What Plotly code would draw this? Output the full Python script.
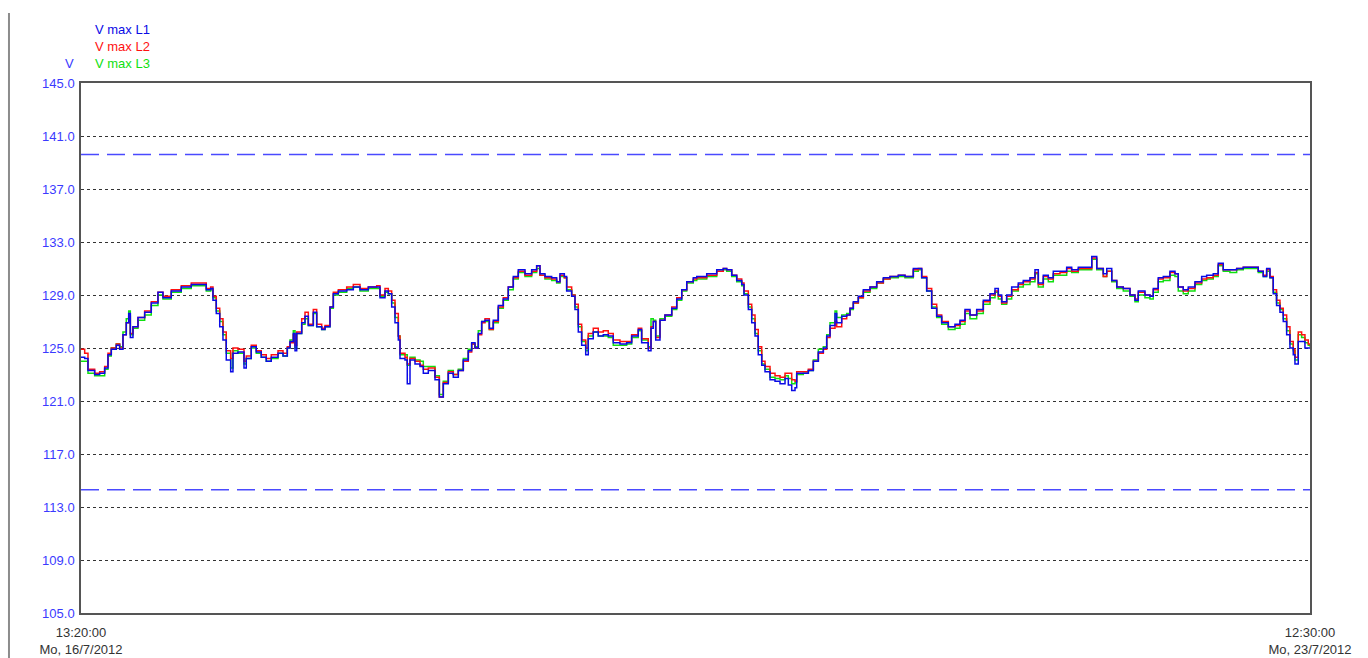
import pandas as pd
import plotly.graph_objects as go

# Measurement window
START = "2012-07-16 13:20:00"
END = "2012-07-23 12:30:00"

# Sample times, hours after START
HOURS = [
    0.0, 0.5, 0.95, 1.86, 2.54, 3.22, 3.67, 4.12, 4.80, 5.26,
    5.71, 6.16, 6.49, 6.71, 7.07, 7.75, 8.66, 9.56, 10.47, 11.15,
    12.28, 13.64, 15.0, 16.15, 17.04, 17.64, 17.95, 18.40, 18.87, 19.31,
    19.76, 20.36, 20.67, 21.35, 22.17, 22.48, 23.16, 23.84, 24.52, 25.20,
    25.88, 26.80, 27.48, 28.06, 28.43, 28.88, 29.11, 29.34, 30.02, 30.47,
    30.92, 31.60, 32.06, 32.74, 33.19, 33.87, 34.32, 35.0, 36.14, 37.04,
    37.95, 39.08, 40.22, 40.67, 41.35, 41.80, 42.26, 42.71, 43.16, 43.39,
    44.07, 44.38, 44.75, 45.43, 46.11, 46.56, 47.24, 48.15, 48.74, 49.28,
    49.96, 50.64, 51.32, 52.0, 52.68, 53.14, 53.59, 54.04, 54.50, 54.95,
    55.54, 56.08, 56.76, 57.44, 58.12, 58.80, 59.48, 60.39, 61.30, 61.98,
    62.43, 63.11, 64.02, 64.70, 65.15, 65.74, 66.06, 66.74, 67.19, 67.64,
    68.10, 68.65, 69.0, 69.68, 70.36, 71.04, 71.72, 72.40, 73.31, 74.22,
    74.90, 75.80, 76.26, 77.16, 77.53, 77.84, 78.17, 78.75, 79.43, 80.35,
    81.03, 81.71, 82.39, 83.28, 83.75, 85.11, 86.47, 87.36, 87.83, 88.51,
    89.19, 89.87, 90.18, 90.77, 91.23, 91.68, 92.12, 92.59, 93.04, 93.72,
    94.40, 95.08, 95.76, 96.21, 96.67, 97.12, 97.35, 98.25, 98.93, 99.61,
    100.29, 100.97, 101.43, 101.88, 102.56, 102.79, 103.47, 104.15, 104.60, 105.05,
    105.73, 106.41, 107.32, 108.23, 109.13, 110.04, 111.17, 112.08, 113.21, 113.89,
    114.35, 115.03, 115.71, 116.39, 117.07, 117.97, 118.88, 119.56, 120.24, 120.92,
    121.83, 122.73, 123.64, 124.32, 124.77, 125.23, 125.91, 126.59, 127.49, 128.17,
    129.08, 129.76, 130.21, 130.89, 131.57, 132.25, 133.16, 134.07, 134.75, 135.65,
    136.56, 137.48, 138.16, 139.05, 139.52, 140.20, 140.88, 141.77, 142.68, 143.36,
    143.81, 144.72, 145.40, 145.85, 146.53, 147.21, 148.12, 148.80, 149.25, 149.93,
    150.61, 151.52, 152.43, 153.11, 154.01, 154.69, 155.37, 156.28, 157.19, 158.09,
    159.45, 160.13, 160.81, 161.27, 161.72, 162.17, 162.62, 163.08, 163.53, 163.99,
    164.44, 164.89, 165.12, 165.57, 166.03, 166.48, 166.93, 167.17,
]

V_MAX_L1 = [
    124.3, 124.2, 123.3, 123.0, 123.1, 123.5, 124.5, 124.9, 125.2, 124.9,
    126.0, 126.9, 127.6, 125.8, 126.6, 127.3, 127.7, 128.4, 129.2, 128.8,
    129.3, 129.6, 129.8, 129.8, 129.4, 129.5, 128.6, 127.6, 126.6, 125.6,
    124.1, 123.2, 124.6, 124.7, 123.5, 124.2, 125.1, 124.7, 124.3, 124.0,
    124.3, 124.6, 124.4, 125.0, 125.5, 126.1, 124.8, 126.1, 126.9, 127.4,
    126.7, 127.7, 126.6, 126.4, 126.6, 128.1, 129.1, 129.3, 129.4, 129.6,
    129.4, 129.6, 129.6, 128.8, 129.3, 129.1, 128.1, 126.9, 125.6, 124.2,
    124.1, 122.3, 124.1, 123.8, 123.6, 123.1, 123.3, 122.6, 121.3, 122.3,
    123.1, 122.8, 123.3, 124.1, 124.8, 125.4, 125.0, 126.1, 127.0, 127.1,
    126.5, 127.1, 128.2, 128.7, 129.6, 130.4, 130.9, 130.6, 130.9, 131.2,
    130.6, 130.4, 130.3, 130.0, 130.6, 130.4, 129.3, 128.9, 127.9, 126.2,
    125.2, 124.5, 125.7, 126.2, 125.9, 126.0, 125.9, 125.4, 125.3, 125.4,
    125.9, 126.4, 125.4, 124.8, 126.5, 127.0, 125.6, 127.1, 127.5, 128.0,
    128.7, 129.4, 130.0, 130.3, 130.4, 130.6, 130.9, 131.0, 130.9, 130.5,
    130.1, 129.8, 129.0, 127.9, 126.9, 125.9, 124.5, 123.7, 123.2, 122.6,
    122.5, 122.3, 122.7, 122.2, 121.8, 122.0, 123.1, 123.1, 123.3, 124.0,
    124.7, 125.0, 125.9, 126.7, 127.6, 126.9, 127.4, 127.5, 128.0, 128.5,
    128.9, 129.4, 129.6, 130.0, 130.3, 130.4, 130.5, 130.4, 131.0, 131.0,
    130.3, 129.3, 128.0, 127.4, 126.9, 126.6, 126.8, 127.1, 127.9, 127.5,
    127.9, 128.6, 129.1, 129.5, 129.0, 128.5, 129.0, 129.6, 129.9, 130.1,
    130.3, 130.9, 129.9, 130.5, 130.3, 130.8, 130.8, 131.1, 130.9, 131.1,
    131.1, 131.9, 131.0, 130.6, 131.0, 130.1, 129.6, 129.5, 129.0, 128.6,
    129.3, 129.0, 128.9, 129.5, 130.3, 130.4, 130.8, 130.6, 129.6, 129.4,
    129.6, 130.0, 130.4, 130.5, 130.6, 131.4, 130.9, 130.9, 131.0, 131.1,
    131.1, 130.8, 130.4, 131.0, 130.3, 129.1, 128.2, 127.7, 127.0, 126.0,
    125.0, 124.5, 123.8, 125.5, 125.5, 125.0, 125.0, 125.0,
]

V_MAX_L2 = [
    124.9, 124.6, 123.4, 123.1, 123.2, 123.6, 124.6, 125.0, 125.3, 125.0,
    126.0, 126.9, 127.4, 126.1, 126.6, 127.3, 127.8, 128.5, 129.2, 128.9,
    129.4, 129.7, 129.9, 129.9, 129.5, 129.6, 128.9, 128.0, 127.2, 126.2,
    124.8, 124.2, 125.0, 124.9, 124.0, 124.4, 125.2, 124.8, 124.5, 124.2,
    124.5, 124.8, 124.6, 125.1, 125.4, 126.0, 125.2, 126.2, 127.2, 127.7,
    126.8, 127.9, 126.8, 126.5, 126.7, 128.1, 129.2, 129.4, 129.6, 129.8,
    129.5, 129.6, 129.7, 129.0, 129.5, 129.3, 128.6, 127.6, 125.9, 124.6,
    124.3, 123.8, 124.2, 124.0, 123.7, 123.4, 123.5, 122.8, 121.3, 122.4,
    123.2, 123.0, 123.3, 124.0, 124.7, 125.3, 125.0, 126.0, 126.9, 127.2,
    126.4, 127.0, 128.1, 128.8, 129.6, 130.3, 130.8, 130.5, 130.8, 131.2,
    130.5, 130.3, 130.2, 130.0, 130.5, 130.3, 129.6, 129.0, 128.3, 126.8,
    125.6, 125.0, 126.1, 126.5, 126.2, 126.3, 126.1, 125.6, 125.5, 125.5,
    126.0, 126.5, 125.7, 125.0, 126.6, 127.0, 125.8, 127.1, 127.5, 128.1,
    128.8, 129.4, 130.0, 130.2, 130.3, 130.5, 130.8, 131.0, 130.9, 130.5,
    130.2, 129.9, 129.3, 128.3, 127.5, 126.4, 125.1, 124.0, 123.6, 123.1,
    122.9, 122.8, 123.1, 123.1, 122.6, 122.5, 123.2, 123.2, 123.4, 124.0,
    124.6, 124.9, 125.8, 126.5, 127.0, 126.6, 127.2, 127.5, 128.0, 128.4,
    128.8, 129.3, 129.6, 129.9, 130.2, 130.4, 130.5, 130.4, 130.9, 131.0,
    130.4, 129.5, 128.3, 127.5, 127.0, 126.6, 126.7, 127.0, 127.8, 127.5,
    127.8, 128.5, 129.0, 129.3, 128.9, 128.4, 128.9, 129.4, 129.8, 130.0,
    130.2, 130.7, 129.8, 130.4, 130.2, 130.6, 130.7, 131.0, 130.8, 131.0,
    131.0, 131.8, 131.0, 130.4, 130.8, 130.1, 129.6, 129.5, 129.0, 128.7,
    129.2, 129.0, 128.9, 129.4, 130.2, 130.3, 130.7, 130.6, 129.6, 129.3,
    129.5, 129.9, 130.2, 130.3, 130.5, 131.3, 130.9, 130.9, 131.0, 131.1,
    131.1, 130.8, 130.5, 130.9, 130.4, 129.4, 128.6, 128.0, 127.5, 126.6,
    125.5, 124.9, 124.3, 126.2, 126.0, 125.6, 125.3, 125.2,
]

V_MAX_L3 = [
    124.0, 124.0, 123.1, 122.9, 122.9, 123.4, 124.4, 125.0, 125.3, 125.1,
    126.2, 127.2, 127.8, 126.0, 126.5, 127.1, 127.5, 128.2, 129.0, 128.7,
    129.2, 129.5, 129.7, 129.7, 129.3, 129.4, 128.8, 127.8, 127.0, 126.0,
    124.6, 123.5, 124.8, 124.6, 123.8, 124.2, 125.0, 124.6, 124.3, 124.0,
    124.2, 124.6, 124.4, 125.0, 125.6, 126.3, 125.0, 126.1, 126.8, 127.2,
    126.7, 127.6, 126.6, 126.4, 126.6, 128.0, 129.0, 129.2, 129.5, 129.6,
    129.3, 129.5, 129.5, 128.9, 129.2, 129.1, 128.4, 127.3, 125.9, 124.5,
    124.5, 123.7, 124.3, 124.1, 124.0, 123.6, 123.6, 122.9, 121.5, 122.5,
    123.3, 123.0, 123.4, 124.2, 124.9, 125.3, 125.1, 126.3, 127.0, 127.0,
    126.4, 126.9, 128.0, 128.6, 129.4, 130.2, 130.7, 130.4, 130.7, 131.0,
    130.5, 130.2, 130.1, 129.9, 130.4, 130.3, 129.4, 129.0, 128.1, 126.6,
    125.5, 124.8, 125.9, 126.2, 125.9, 125.9, 125.8, 125.2, 125.2, 125.3,
    125.8, 126.3, 125.6, 125.1, 127.2, 127.1, 125.9, 127.2, 127.4, 127.9,
    128.6, 129.3, 129.9, 130.1, 130.2, 130.4, 130.8, 130.9, 130.8, 130.4,
    130.0, 129.7, 129.1, 128.1, 127.2, 126.1, 124.8, 123.8, 123.4, 122.8,
    122.7, 122.6, 122.9, 122.7, 122.3, 122.4, 123.0, 123.1, 123.3, 124.1,
    124.9, 125.1, 126.0, 126.9, 127.8, 127.3, 127.5, 127.6, 127.9, 128.4,
    128.8, 129.2, 129.5, 129.9, 130.2, 130.3, 130.4, 130.3, 130.8, 130.9,
    130.3, 129.3, 128.1, 127.3, 126.8, 126.4, 126.5, 126.8, 127.6, 127.2,
    127.6, 128.3, 128.8, 129.2, 128.7, 128.3, 128.7, 129.3, 129.6, 129.8,
    130.0, 130.6, 129.6, 130.2, 130.0, 130.5, 130.5, 130.8, 130.7, 130.9,
    130.9, 131.7, 130.9, 130.4, 130.8, 130.0, 129.5, 129.3, 128.9, 128.5,
    129.0, 128.8, 128.7, 129.2, 130.0, 130.1, 130.5, 130.4, 129.3, 129.1,
    129.3, 129.8, 130.1, 130.2, 130.4, 131.2, 130.8, 130.7, 130.9, 131.0,
    131.0, 130.7, 130.4, 130.8, 130.3, 129.2, 128.4, 127.9, 127.2, 126.3,
    125.3, 124.8, 124.1, 126.0, 125.8, 125.4, 125.2, 125.1,
]

assert len(HOURS) == len(V_MAX_L1) == len(V_MAX_L2) == len(V_MAX_L3)

# Limit lines and axis ticks
UPPER_LIMIT = 139.6
LOWER_LIMIT = 114.3
Y_TICKS = [105, 109, 113, 117, 121, 125, 129, 133, 137, 141, 145]
X_TICK_TEXT = ["13:20:00<br>Mo, 16/7/2012", "12:30:00<br>Mo, 23/7/2012"]

SERIES = [
    ("V max L1", V_MAX_L1, "#0a0ae6"),
    ("V max L2", V_MAX_L2, "#ff1010"),
    ("V max L3", V_MAX_L3, "#10e010"),
]

start = pd.Timestamp(START)
end = pd.Timestamp(END)
times = start + pd.to_timedelta(HOURS, unit="h")

FONT = "Liberation Sans, Arial, sans-serif"
FS = 13

fig = go.Figure()

# draw L3 first, L1 last so the blue trace sits on top
for name, values, color in reversed(SERIES):
    fig.add_trace(go.Scatter(
        x=times, y=values, mode="lines", name=name,
        line=dict(color=color, width=1.5, shape="hv"),
        showlegend=False,
    ))

for level in (UPPER_LIMIT, LOWER_LIMIT):
    fig.add_shape(
        type="line", xref="x", yref="y",
        x0=start, x1=end, y0=level, y1=level,
        line=dict(color="#4a4aff", width=1.5, dash="18px,8px"),
        layer="below",
    )

# vertical rule on the far left of the page
fig.add_shape(
    type="line", xref="paper", yref="paper",
    x0=-0.0586, x1=-0.0586, y0=-0.1, y1=1.132,
    line=dict(color="#8c8c8c", width=2),
)

# colour-coded series labels above the plot
for i, (name, _, color) in enumerate(SERIES):
    fig.add_annotation(
        xref="paper", yref="paper", x=0.010, y=1.100 - i * 0.032,
        text=name, showarrow=False, xanchor="left", yanchor="middle",
        font=dict(family=FONT, size=FS, color=color),
    )

fig.add_annotation(
    xref="paper", yref="paper", x=-0.009, y=1.036,
    text="V", showarrow=False, xanchor="center", yanchor="middle",
    font=dict(family=FONT, size=FS, color="#3a3aff"),
)

fig.update_layout(
    width=1368, height=658,
    margin=dict(l=81, r=58, t=83, b=45),
    paper_bgcolor="white", plot_bgcolor="white",
    font=dict(family=FONT, size=FS),
)

fig.update_xaxes(
    range=[start, end],
    tickvals=[start, end], ticktext=X_TICK_TEXT,
    tickfont=dict(family=FONT, size=FS, color="#333333"),
    showgrid=False, zeroline=False,
    showline=True, mirror=True, linecolor="#555555", linewidth=1.5,
    ticks="", ticklabelstandoff=7, automargin=False,
)

fig.update_yaxes(
    range=[105, 145],
    tickvals=Y_TICKS, ticktext=[f"{v:.1f}" for v in Y_TICKS],
    tickfont=dict(family=FONT, size=FS, color="#3a3aff"),
    showgrid=True, gridcolor="#333333", gridwidth=1, griddash="3px,3px",
    zeroline=False,
    showline=True, mirror=True, linecolor="#555555", linewidth=1.5,
    ticks="", ticklabelstandoff=2, automargin=False,
)

fig.write_html("out.html")
